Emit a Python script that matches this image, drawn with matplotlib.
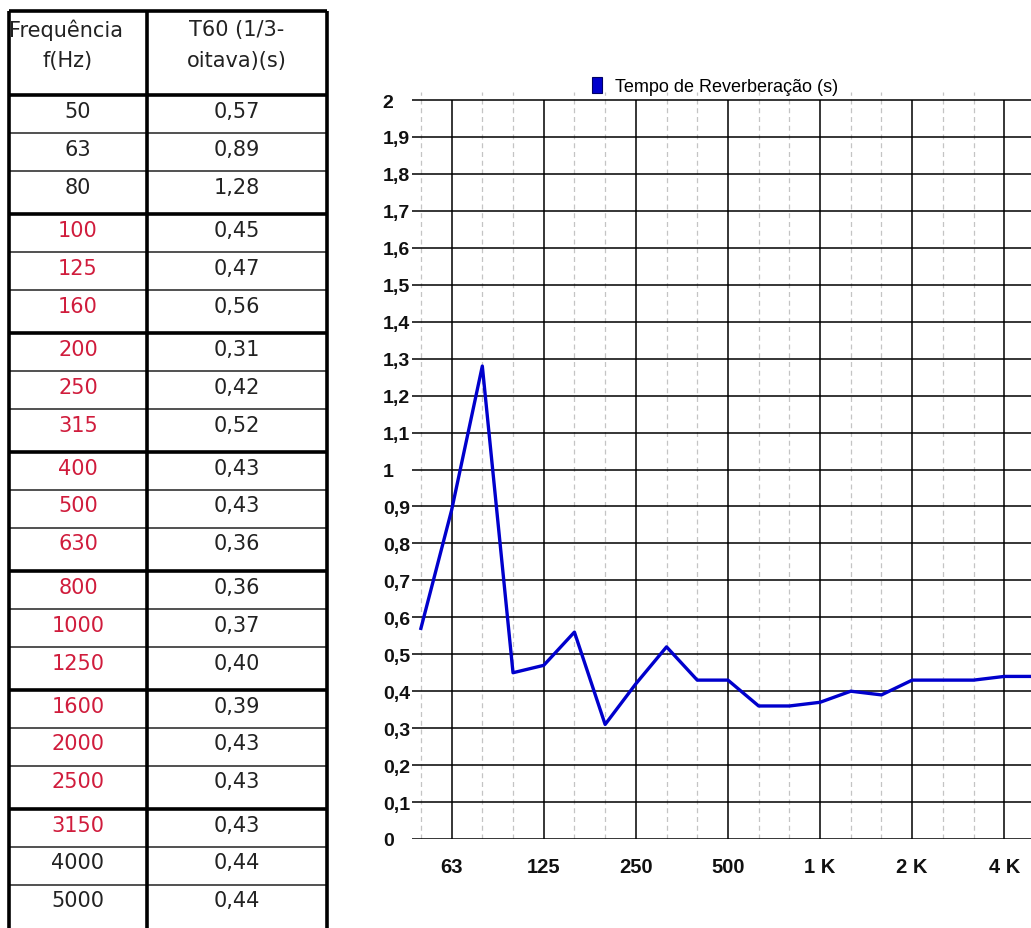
import numpy as np
import matplotlib.pyplot as plt
from matplotlib.patches import Patch

# dados da tabela / gráfico
freqs = [50, 63, 80, 100, 125, 160, 200, 250, 315, 400, 500, 630,
         800, 1000, 1250, 1600, 2000, 2500, 3150, 4000, 5000]
t60 = [0.57, 0.89, 1.28, 0.45, 0.47, 0.56, 0.31, 0.42, 0.52, 0.43, 0.43, 0.36,
       0.36, 0.37, 0.40, 0.39, 0.43, 0.43, 0.43, 0.44, 0.44]
red_freqs = [100, 125, 160, 200, 250, 315, 400, 500, 630,
             800, 1000, 1250, 1600, 2000, 2500, 3150]
octaves = [63, 125, 250, 500, 1000, 2000, 4000]
octave_labels = ["63", "125", "250", "500", "1 K", "2 K", "4 K"]
yvals = np.arange(0, 21) / 10

W, H = 1031, 929
fig = plt.figure(figsize=(W / 100, H / 100), dpi=100)

# ---- tabela (coordenadas em pixels) ----
tab = fig.add_axes([0, 0, 1, 1])
tab.set_xlim(0, W)
tab.set_ylim(H, 0)
tab.axis("off")

x0, xm, x1 = 9, 147, 327
top, head_bot = 12, 96
heights = [37.5, 38, 43.5]
bounds = [head_bot]
for i in range(len(freqs)):
    bounds.append(bounds[-1] + heights[i % 3])

tab.hlines(top, x0, x1, color="black", lw=2.6)
tab.hlines(head_bot, x0, x1, color="black", lw=2.6)
for i, b in enumerate(bounds[1:-1]):
    thick = (i % 3) == 2
    tab.hlines(b, x0, x1, color="black" if thick else "#333333", lw=2.6 if thick else 1.2)
for xv in (x0, xm, x1):
    tab.vlines(xv, top, H, color="black", lw=2.6)

tfont = dict(family="DejaVu Sans", fontsize=15)
tab.text(66, 30, "Frequência", ha="center", va="center", color="#222222", **tfont)
tab.text(68, 61, "f(Hz)", ha="center", va="center", color="#222222", **tfont)
tab.text(237, 30, "T60 (1/3-", ha="center", va="center", color="#222222", **tfont)
tab.text(237, 61, "oitava)(s)", ha="center", va="center", color="#222222", **tfont)

for i, (f, t) in enumerate(zip(freqs, t60)):
    yc = bounds[i] + 16
    col = "#d01c3c" if f in red_freqs else "#222222"
    tab.text(78, yc, str(f), ha="center", va="center", color=col, **tfont)
    tab.text(237, yc, f"{t:.2f}".replace(".", ","), ha="center", va="center",
             color="#222222", **tfont)

# ---- gráfico ----
ax = fig.add_axes([412 / W, (H - 840) / H, (W - 412) / W, (840 - 93) / H])
x = np.arange(len(freqs))
ax.set_xlim(-0.29, 19.87)
ax.set_ylim(0, 2.0217)

for v in yvals:
    ax.axhline(v, color="black", lw=1.1, zorder=1)
for i, f in enumerate(freqs):
    if f in octaves:
        ax.vlines(i, 0, 2, color="black", lw=1.1, zorder=1)
    else:
        ax.axvline(i, color="#c4c4c4", lw=0.9, ls=(0, (4, 3)), zorder=0)

ax.plot(x, t60, color="#0000cc", lw=2.4, zorder=3)

oct_idx = [freqs.index(f) for f in octaves]
ax.set_xticks(oct_idx, octave_labels)
ax.set_yticks(yvals, [f"{v:.1f}".replace(".", ",").replace(",0", "") if v in (0, 1, 2)
                      else f"{v:.1f}".replace(".", ",") for v in yvals])
ax.tick_params(axis="x", length=0, pad=13, labelsize=14.5)
ax.tick_params(axis="y", length=0, pad=21, labelsize=14)
for lab in ax.get_xticklabels() + ax.get_yticklabels():
    lab.set_fontfamily("Liberation Sans")
    lab.set_fontweight("bold")
    lab.set_color("#111111")
for lab in ax.get_yticklabels():
    lab.set_horizontalalignment("left")
for s in ax.spines.values():
    s.set_visible(False)

fig.legend(handles=[Patch(facecolor="#0000cc", edgecolor="#000066", lw=0.8)],
           labels=["Tempo de Reverberação (s)"], loc="center",
           bbox_to_anchor=(715 / W, (H - 87) / H), frameon=False,
           handlelength=0.55, handleheight=1.0, handletextpad=0.7,
           prop={"family": "Liberation Sans", "size": 13})

fig.savefig("out.png", dpi=100)
